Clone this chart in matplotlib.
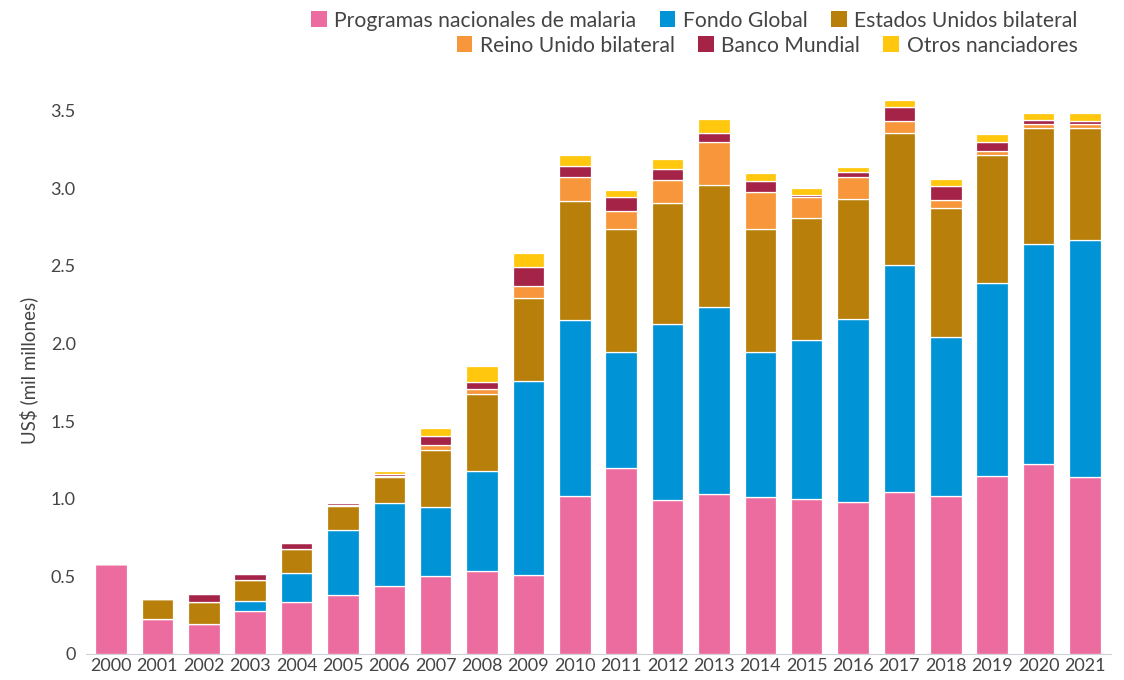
import numpy as np
import matplotlib
matplotlib.use("Agg")
import matplotlib.pyplot as plt
from matplotlib.patches import Patch

plt.rcParams["font.family"] = ["Lato", "DejaVu Sans"]

years = [str(y) for y in range(2000, 2022)]

# US$ mil millones
programas = [0.58, 0.225, 0.193, 0.277, 0.335, 0.38, 0.44, 0.50, 0.535, 0.51, 1.02,
             1.20, 0.99, 1.03, 1.01, 1.00, 0.98, 1.045, 1.02, 1.147, 1.225, 1.14]
fondo = [0, 0, 0, 0.065, 0.185, 0.42, 0.53, 0.445, 0.645, 1.25, 1.13,
         0.745, 1.135, 1.205, 0.935, 1.02, 1.18, 1.46, 1.02, 1.243, 1.415, 1.53]
eeuu = [0, 0.128, 0.145, 0.137, 0.157, 0.152, 0.172, 0.367, 0.492, 0.532, 0.767,
        0.792, 0.782, 0.787, 0.792, 0.792, 0.772, 0.852, 0.832, 0.822, 0.752, 0.722]
reino = [0, 0, 0, 0, 0, 0.005, 0.005, 0.035, 0.035, 0.08, 0.155,
         0.12, 0.15, 0.28, 0.24, 0.135, 0.14, 0.08, 0.055, 0.03, 0.025, 0.025]
banco = [0, 0, 0.05, 0.038, 0.035, 0.015, 0.015, 0.055, 0.045, 0.12, 0.075,
         0.085, 0.07, 0.055, 0.07, 0.01, 0.035, 0.085, 0.09, 0.06, 0.025, 0.02]
otros = [0, 0, 0, 0, 0, 0, 0.02, 0.055, 0.105, 0.09, 0.07,
         0.045, 0.065, 0.09, 0.055, 0.045, 0.03, 0.045, 0.045, 0.05, 0.045, 0.05]

series = [
    ("Programas nacionales de malaria", programas, "#EC6CA0"),
    ("Fondo Global", fondo, "#0094D6"),
    ("Estados Unidos bilateral", eeuu, "#B8800A"),
    ("Reino Unido bilateral", reino, "#F7963A"),
    ("Banco Mundial", banco, "#A42347"),
    ("Otros nanciadores", otros, "#FFC80F"),
]

fig = plt.figure(figsize=(11.24, 6.8), dpi=100)
ax = fig.add_axes([85.5 / 1124, 26 / 680, 1025 / 1124, 566.5 / 680])

x = np.arange(len(years))
bottom = np.zeros(len(years))
for name, vals, col in series:
    vals = np.array(vals)
    ax.bar(x, vals, bottom=bottom, width=0.68, color=col, edgecolor="white", linewidth=0.9)
    bottom += vals

ax.set_xlim(-0.55, len(years) - 0.45)
ax.set_ylim(0, 3.65)
ax.set_yticks([0, 0.5, 1.0, 1.5, 2.0, 2.5, 3.0, 3.5])
ax.set_yticklabels(["0", "0.5", "1.0", "1.5", "2.0", "2.5", "3.0", "3.5"])
ax.set_xticks(x)
ax.set_xticklabels(years)
ax.tick_params(axis="both", length=0, labelsize=13, colors="#444444")
ax.tick_params(axis="y", pad=7)
ax.tick_params(axis="x", pad=3)
for s in ["top", "right", "left"]:
    ax.spines[s].set_visible(False)
ax.spines["bottom"].set_color("#d0d0d8")
ax.set_ylabel("US$ (mil millones)", fontsize=13.5, color="#444444", labelpad=9)

handles = [Patch(facecolor=c, edgecolor="none") for _, _, c in series]
labels = [n for n, _, _ in series]
kw = dict(ncol=3, loc="upper right", frameon=False, fontsize=15.2,
          handlelength=0.75, handleheight=0.75, handletextpad=0.35,
          columnspacing=1.1, labelcolor="#444444", borderaxespad=0.1)
leg1 = fig.legend(handles[:3], labels[:3], bbox_to_anchor=(1088 / 1124, 1.0), **kw)
leg2 = fig.legend(handles[3:], labels[3:], bbox_to_anchor=(1088 / 1124, 1 - 25 / 680), **kw)

fig.savefig("out.png", dpi=100)
